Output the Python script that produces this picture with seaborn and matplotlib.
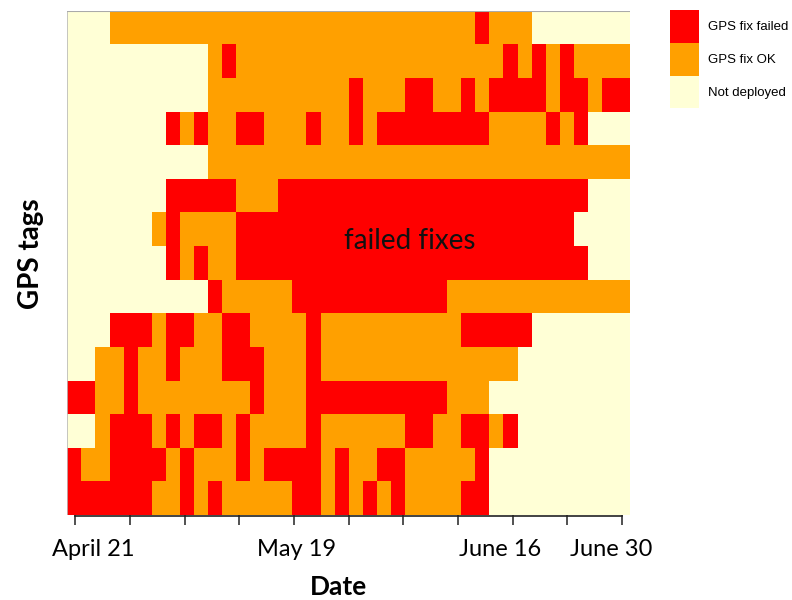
import matplotlib
matplotlib.use("Agg")
import matplotlib.pyplot as plt
from matplotlib.colors import ListedColormap
from matplotlib.patches import Patch
import numpy as np
import pandas as pd
import seaborn as sns

# ---- data -----------------------------------------------------------
# status codes per tag (rows, top to bottom) and per time bin (columns)
# F = GPS fix failed, O = GPS fix OK, N = Not deployed
status_codes = ["F", "O", "N"]
status_labels = ["GPS fix failed", "GPS fix OK", "Not deployed"]
status_colors = ["#FF0000", "#FFA000", "#FFFFD6"]

tag_rows = [
    "NNNOOOOOOO OOOOOOOOOO OOOOOOOOOF OOONNNNNNN",
    "NNNNNNNNNN OFOOOOOOOO OOOOOOOOOO OFOFOFOOOO",
    "NNNNNNNNNN OOOOOOOOOO FOOOFFOOFO FFFFOFFOFF",
    "NNNNNNNFOF OOFFOOOFOO FOFFFFFFFF OOOOFOFNNN",
    "NNNNNNNNNN OOOOOOOOOO OOOOOOOOOO OOOOOOOOOO",
    "NNNNNNNFFF FFOOOFFFFF FFFFFFFFFF FFFFFFFNNN",
    "NNNNNNOFOO OOFFFFFFFF FFFFFFFFFF FFFFFFNNNN",
    "NNNNNNNFOF OOFFFFFFFF FFFFFFFFFF FFFFFFFNNN",
    "NNNNNNNNNN FOOOOOFFFF FFFFFFFOOO OOOOOOOOOO",
    "NNNFFFOFFO OFFOOOOFOO OOOOOOOOFF FFFNNNNNNN",
    "NNOOFOOFOO OFFFOOOFOO OOOOOOOOOO OONNNNNNNN",
    "FFOOFOOOOO OOOFOOOFFF FFFFFFFOOO NNNNNNNNNN",
    "NNOFFFOFOF FOFOOOOFOO OOOOFFOOFF OFNNNNNNNN",
    "FOOFFFFOFO OOFOFFFFOF OOFFOOOOOF NNNNNNNNNN",
    "FFFFFFOOFO FOOOOOFFOF OFOFOOOOFF NNNNNNNNNN",
]

# x-axis: weekly tick marks (days after April 21) and the date labels
tick_days = [0, 7, 14, 21, 28, 35, 42, 49, 56, 63, 70]
label_days = [2.3, 28.3, 54.4, 68.6]
tick_labels = ["April 21", "May 19", "June 16", "June 30"]
day0_col = 0.57           # column coordinate of April 21
cols_per_day = 3.886 / 7  # column units per day

# ---- build matrix ---------------------------------------------------
rows = [r.replace(" ", "") for r in tag_rows]
assert all(len(r) == 40 for r in rows)
code_index = {c: i for i, c in enumerate(status_codes)}
mat = pd.DataFrame([[code_index[c] for c in r] for r in rows])

# ---- figure ---------------------------------------------------------
fig = plt.figure(figsize=(7.92, 6.0), dpi=100)
W, H = 792, 600
x0, x1, y0, y1 = 67.3, 630.1, 10.7, 515.0
ax = fig.add_axes([x0 / W, 1 - y1 / H, (x1 - x0) / W, (y1 - y0) / H])

sns.heatmap(mat, cmap=ListedColormap(status_colors), vmin=-0.5, vmax=2.5,
            cbar=False, ax=ax, xticklabels=False, yticklabels=False,
            linewidths=0)

# frame lines: light grey left/top
ax.axvline(0, color="#BBBBBB", lw=1.2)
ax.axhline(0, color="#AAAAAA", lw=1.5)

# x axis: major ticks = marks, minor ticks = labels
tick_pos = [day0_col + d * cols_per_day for d in tick_days]
label_pos = [day0_col + d * cols_per_day for d in label_days]
ax.set_xticks(tick_pos)
ax.set_xticklabels([""] * len(tick_pos))
ax.set_xticks(label_pos, minor=True)
ax.set_xticklabels(tick_labels, minor=True, fontfamily="Lato", fontsize=17)
ax.tick_params(axis="x", which="major", length=7, width=1.2,
               color="#333333", bottom=True)
ax.tick_params(axis="x", which="minor", length=0, pad=17, bottom=True)
ax.tick_params(axis="y", left=False)
ax.plot([tick_pos[0], tick_pos[-1]], [15.02, 15.02], color="#222222",
        lw=1.2, clip_on=False)
ax.set_xlabel("")
ax.set_ylabel("")

fig.text(338 / W, 1 - 587 / H, "Date", ha="center", va="center",
         fontfamily="Lato", fontweight="bold", fontsize=19)
fig.text(31 / W, 1 - 254 / H, "GPS tags", ha="center", va="center",
         rotation=90, fontfamily="Lato", fontweight="bold", fontsize=20)

# annotation
ax.text(24.33, 7.10, "failed fixes", ha="center", va="baseline",
        fontfamily="Lato", fontsize=20, color="#111111")

# legend
handles = [Patch(facecolor=c, edgecolor="none") for c in status_colors]
fig.legend(handles, status_labels, loc="upper left",
           bbox_to_anchor=(670 / W, 1 - 10 / H), frameon=False,
           prop={"family": "Liberation Sans", "size": 9.5},
           handlelength=2.2, handleheight=3.45, labelspacing=0.0,
           handletextpad=0.7, borderpad=0.0, borderaxespad=0.0)

fig.savefig("out.png", dpi=100)
